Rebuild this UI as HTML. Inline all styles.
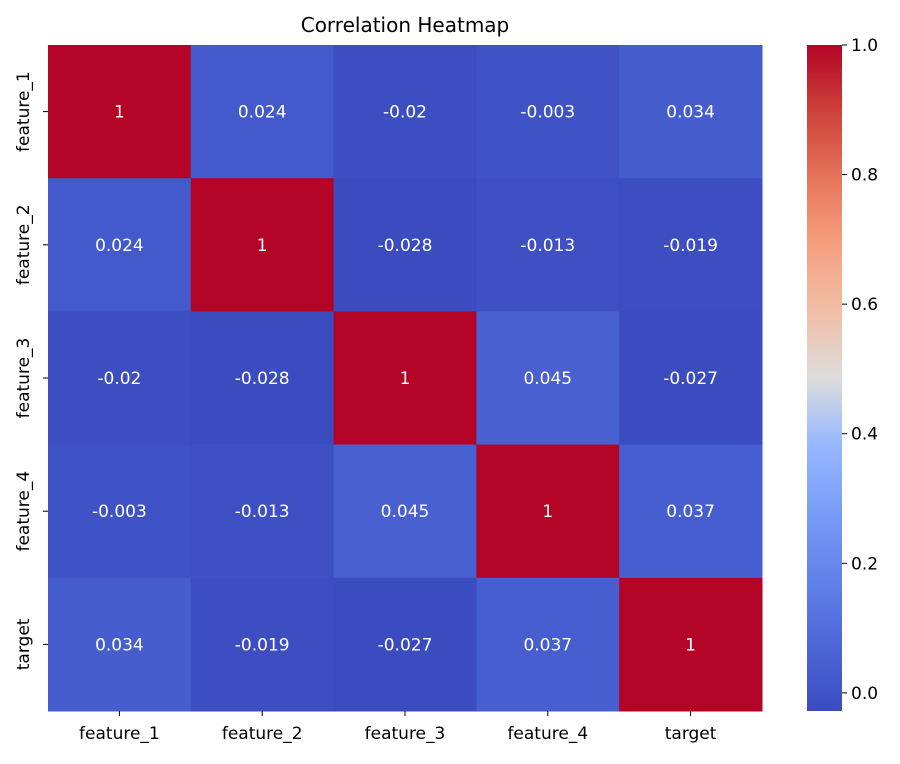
<!DOCTYPE html>
<html><head><meta charset="utf-8"><style>
body{margin:0;background:#fff;font-family:"Liberation Sans","DejaVu Sans",sans-serif;}
svg text{font-family:"DejaVu Sans","Liberation Sans",sans-serif;}
</style></head><body>
<svg id="chart" width="900" height="759" viewBox="0 0 900 759" xmlns="http://www.w3.org/2000/svg">
<defs><linearGradient id="cbgrad" x1="0" y1="1" x2="0" y2="0"></linearGradient></defs>
<text x="405" y="32" text-anchor="middle" font-size="20" fill="#000">Correlation Heatmap</text>
<g id="cells"></g><g id="xt"></g><g id="yt"></g><g id="cb"></g>
</svg>
<script>
const labels=["feature_1","feature_2","feature_3","feature_4","target"];
const row1=[1,0.024,-0.02,-0.003,0.034];
const row2=[0.024,1,-0.028,-0.013,-0.019];
const row3=[-0.02,-0.028,1,0.045,-0.027];
const row4=[-0.003,-0.013,0.045,1,0.037];
const row5=[0.034,-0.019,-0.027,0.037,1];
const cbTicks=[0,0.2,0.4,0.6,0.8,1.0];
const matrix=[row1,row2,row3,row4,row5];
const NS="http://www.w3.org/2000/svg";
const X0=48,X1=762,Y0=45,Y1=711;
const allv=matrix.flat();const vmin=Math.min(...allv),vmax=Math.max(...allv);
const stops=[[0,59,76,192],[0.1,77,104,215],[0.2,98,130,234],[0.3,121,156,247],[0.4,151,184,255],[0.5,221,220,220],[0.6,241,191,166],[0.7,245,160,128],[0.8,230,116,90],[0.9,205,66,58],[1,180,4,38]];
function cmap(t){t=Math.max(0,Math.min(1,t));for(let i=1;i<stops.length;i++){if(t<=stops[i][0]){const a=stops[i-1],b=stops[i],f=(t-a[0])/(b[0]-a[0]);return `rgb(${[1,2,3].map(k=>Math.round(a[k]+(b[k]-a[k])*f)).join(',')})`;}}return 'rgb(180,4,38)';}
function norm(v){return (v-vmin)/(vmax-vmin);}
const n=labels.length,cw=(X1-X0)/n,ch=(Y1-Y0)/n;
function xs(i){return X0+i*cw;} function ys(i){return Y0+i*ch;}
function el(tag,attrs,parent,txt){const e=document.createElementNS(NS,tag);for(const k in attrs)e.setAttribute(k,attrs[k]);if(txt!==undefined)e.textContent=txt;parent.appendChild(e);return e;}
const cells=document.getElementById('cells');
matrix.forEach((row,r)=>row.forEach((v,c)=>{
 const rc=el('rect',{x:xs(c),y:ys(r),width:cw+0.5,height:ch+0.5,fill:cmap(norm(v))},cells);
 
 
 const t=el('text',{x:xs(c)+cw/2,y:ys(r)+ch/2+6,'text-anchor':'middle','font-size':'17',fill:'#fff'},cells,String(v));
 
 
}));
const xt=document.getElementById('xt'),yt=document.getElementById('yt');
labels.forEach((l,i)=>{
 el('line',{x1:xs(i)+cw/2,x2:xs(i)+cw/2,y1:Y1,y2:Y1+5,stroke:'#000'},xt);
 const t=el('text',{x:xs(i)+cw/2,y:Y1+28,'text-anchor':'middle','font-size':'17',fill:'#000'},xt,l);
 
 
 const cy=ys(i)+ch/2;
 el('line',{x1:X0-5,x2:X0,y1:cy,y2:cy,stroke:'#000'},yt);
 const u=el('text',{x:0,y:0,'text-anchor':'middle','font-size':'17',fill:'#000',transform:`translate(29,${cy}) rotate(-90)`},yt,l);
 
 
});
const g=document.getElementById('cbgrad');
for(let i=0;i<=20;i++){el('stop',{offset:(i/20),'stop-color':cmap(i/20)},g);}
const cb=document.getElementById('cb');
const CX=807,CW=35;
const bar=el('rect',{x:CX,y:Y0,width:CW,height:Y1-Y0,fill:'url(#cbgrad)'},cb);


function cby(v){return Y1-(v-vmin)/(vmax-vmin)*(Y1-Y0);}
cbTicks.forEach(v=>{
 const y=cby(v);
 el('line',{x1:CX+CW,x2:CX+CW+5,y1:y,y2:y,stroke:'#000'},cb);
 const t=el('text',{x:CX+CW+9,y:y+6,'font-size':'17',fill:'#000'},cb,v.toFixed(1));
 
 
});
</script>
</body></html>
